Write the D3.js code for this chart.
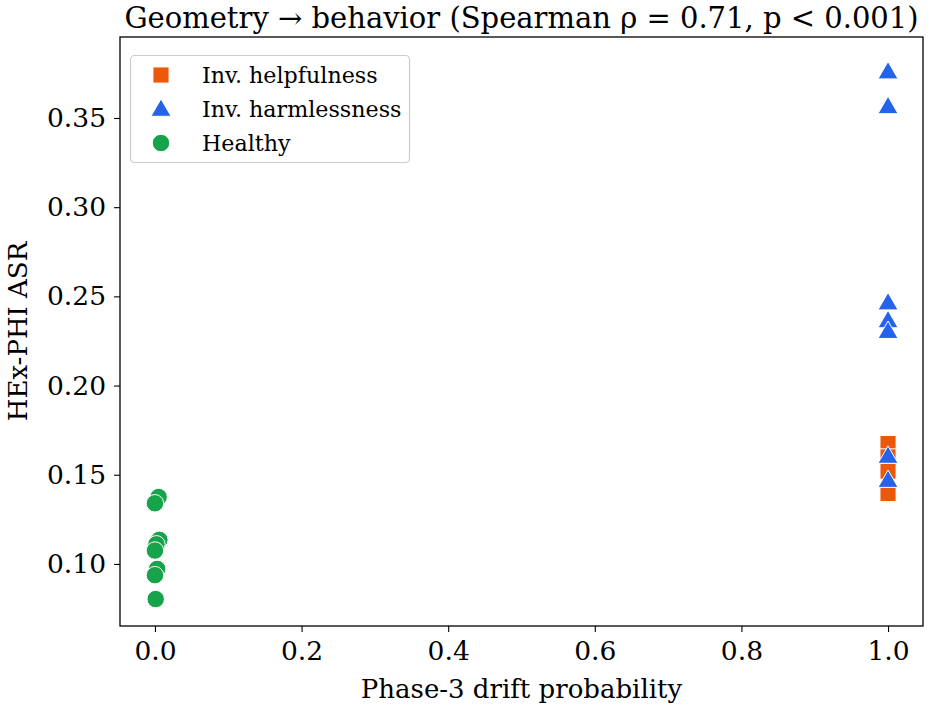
<!DOCTYPE html>
<html>
<head>
<meta charset="utf-8">
<script src="https://cdn.jsdelivr.net/npm/d3@7/dist/d3.min.js"></script>
<style>
  html, body { margin: 0; padding: 0; background: #fff; }
  svg { display: block; }
  text { font-family: "DejaVu Serif", serif; fill: #000; }
</style>
</head>
<body>
<svg id="chart" width="931" height="712"></svg>
<script>
// ---- Data ----
const helpX = [1.0, 1.0, 1.0, 1.0];
const helpY = [0.1675, 0.160, 0.152, 0.1395];

const harmX = [1.0, 1.0, 1.0, 1.0, 1.0, 1.0, 1.0];
const harmY = [0.376, 0.3565, 0.2465, 0.2365, 0.2305, 0.1605, 0.147];

const healthyX = [0.005, 0.0, 0.006, 0.002, 0.0, 0.003, 0.0, 0.001];
const healthyY = [0.1375, 0.134, 0.1135, 0.111, 0.1075, 0.0972, 0.0937, 0.0803];

const xTicks = [0.0, 0.2, 0.4, 0.6, 0.8, 1.0];
const yTicks = [0.10, 0.15, 0.20, 0.25, 0.30, 0.35];

const seriesNames = ["Inv. helpfulness", "Inv. harmlessness", "Healthy"];
const seriesColors = ["#ea580c", "#2563eb", "#16a34a"];
const titleText = "Geometry \u2192 behavior (Spearman \u03c1 = 0.71, p < 0.001)";
const xLabel = "Phase-3 drift probability";
const yLabel = "HEx-PHI ASR";

// ---- Layout ----
const svg = d3.select("#chart");
const pL = 120, pR = 923, pT = 37, pB = 626;

const x = d3.scaleLinear().domain([-0.0477, 1.0477]).range([pL, pR]);
const y = d3.scaleLinear().domain([0.0652, 0.3954]).range([pB, pT]);

// frame
svg.append("rect").attr("x", pL).attr("y", pT)
  .attr("width", pR - pL).attr("height", pB - pT)
  .attr("fill", "none").attr("stroke", "#000").attr("stroke-width", 1.3);

// axes
const xAxis = d3.axisBottom(x).tickValues(xTicks).tickFormat(d3.format(".1f"))
  .tickSize(6).tickPadding(7);
const gx = svg.append("g").attr("transform", `translate(0,${pB})`).call(xAxis);
gx.select(".domain").remove();
gx.selectAll(".tick line").attr("stroke", "#000").attr("stroke-width", 1.1);
gx.selectAll(".tick text").style("font-family", "DejaVu Serif").style("font-size", "26.5px")
  .attr("dy", "0.78em");

const yAxis = d3.axisLeft(y).tickValues(yTicks).tickFormat(d3.format(".2f"))
  .tickSize(6).tickPadding(8);
const gy = svg.append("g").attr("transform", `translate(${pL},0)`).call(yAxis);
gy.select(".domain").remove();
gy.selectAll(".tick line").attr("stroke", "#000").attr("stroke-width", 1.1);
gy.selectAll(".tick text").style("font-family", "DejaVu Serif").style("font-size", "26.5px");

// labels
svg.append("text").attr("x", (pL + pR) / 2).attr("y", 698)
  .attr("text-anchor", "middle").style("font-size", "26px").text(xLabel);
svg.append("text").attr("transform", `translate(27,${(pT + pB) / 2}) rotate(-90)`)
  .attr("text-anchor", "middle").style("font-size", "26px").text(yLabel);
svg.append("text").attr("x", (pL + pR) / 2).attr("y", 28)
  .attr("text-anchor", "middle").style("font-size", "29px").text(titleText);

// markers
const sq = d3.symbol().type(d3.symbolSquare).size(260);
const tri = d3.symbol().type(d3.symbolTriangle).size(175);
const circ = d3.symbol().type(d3.symbolCircle).size(240);

function drawSeries(xs, ys, sym, color, dyOff) {
  svg.append("g").selectAll("path").data(xs.map((v, i) => [v, ys[i]])).join("path")
    .attr("d", sym)
    .attr("transform", d => `translate(${x(d[0])},${y(d[1]) + dyOff})`)
    .attr("fill", color).attr("stroke", "#fff").attr("stroke-width", 1);
}
drawSeries(helpX, helpY, sq, seriesColors[0], 0);
drawSeries(harmX, harmY, tri, seriesColors[1], 1.5);
drawSeries(healthyX, healthyY, circ, seriesColors[2], 0);

// legend
const lg = svg.append("g");
lg.append("rect").attr("x", 130.5).attr("y", 55.5).attr("width", 279).attr("height", 107)
  .attr("rx", 4).attr("fill", "#fff").attr("fill-opacity", 0.8)
  .attr("stroke", "#cccccc").attr("stroke-width", 1.2);
const syms = [sq, tri, circ];
seriesNames.forEach((name, i) => {
  const cy = 75 + i * 34;
  lg.append("path").attr("d", syms[i])
    .attr("transform", `translate(161,${cy + (i === 1 ? 1.5 : 0)})`)
    .attr("fill", seriesColors[i]).attr("stroke", "#fff").attr("stroke-width", 1);
  lg.append("text").attr("x", 202).attr("y", cy).attr("dy", "0.35em")
    .style("font-size", "22.2px").text(name);
});
</script>
</body>
</html>
